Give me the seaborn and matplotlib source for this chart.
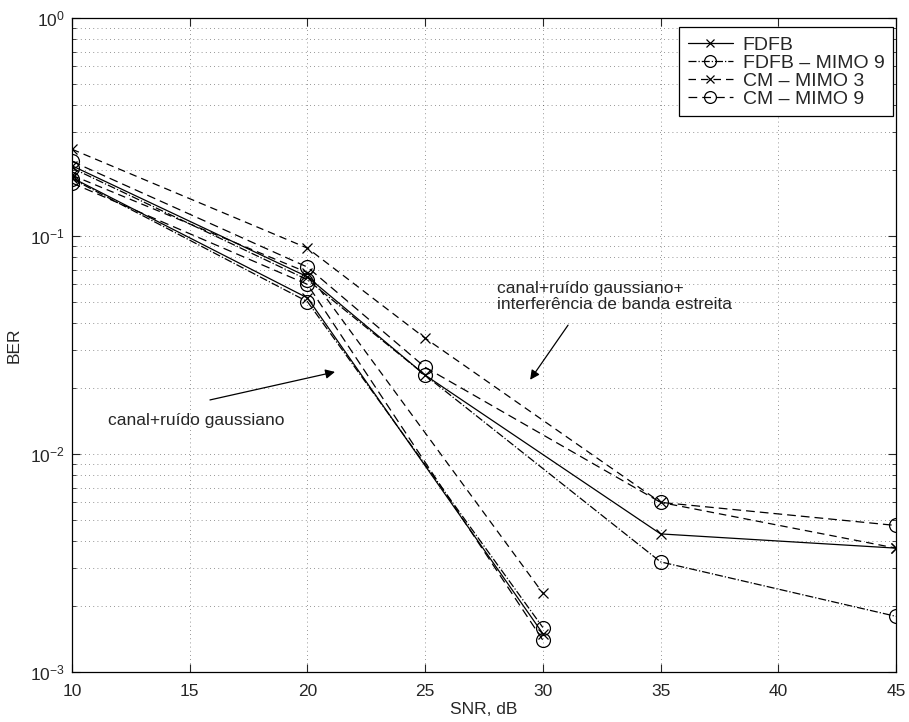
import numpy as np
import pandas as pd
import matplotlib
matplotlib.use("Agg")
import matplotlib.pyplot as plt
import seaborn as sns

# SNR points (dB)
snr_gauss = [10, 20, 30]
snr_interf = [10, 20, 25, 35, 45]

# BER, channel + Gaussian noise
fdfb_gauss = [0.185, 0.052, 0.0015]
fdfb9_gauss = [0.183, 0.050, 0.0016]
cm3_gauss = [0.19, 0.068, 0.0023]
cm9_gauss = [0.175, 0.060, 0.0014]

# BER, channel + Gaussian noise + narrowband interference
fdfb_interf = [0.21, 0.065, 0.023, 0.0043, 0.0037]
fdfb9_interf = [0.205, 0.063, 0.023, 0.0032, 0.0018]
cm3_interf = [0.25, 0.088, 0.034, 0.0060, 0.0037]
cm9_interf = [0.22, 0.072, 0.025, 0.0060, 0.0047]

labels = ["FDFB", "FDFB \u2013 MIMO 9", "CM \u2013 MIMO 3", "CM \u2013 MIMO 9"]

sns.set_style("ticks")
plt.rcParams["font.family"] = ["Liberation Sans", "DejaVu Sans"]
plt.rcParams["mathtext.fontset"] = "custom"
plt.rcParams["mathtext.rm"] = "Liberation Sans"
plt.rcParams["mathtext.it"] = "Liberation Sans"

fig = plt.figure(figsize=(9.09, 7.22), dpi=100)
ax = fig.add_axes([72 / 909, 50 / 722, (896 - 72) / 909, (672 - 18) / 722])

styles = [
    dict(linestyle="-", marker="x", markersize=7),
    dict(linestyle="-.", marker="o", markersize=10),
    dict(linestyle=(0, (6, 4)), marker="x", markersize=7),
    dict(linestyle=(0, (7, 4)), marker="o", markersize=10),
]

gauss = [fdfb_gauss, fdfb9_gauss, cm3_gauss, cm9_gauss]
interf = [fdfb_interf, fdfb9_interf, cm3_interf, cm9_interf]

for lab, st, g, i in zip(labels, styles, gauss, interf):
    dfi = pd.DataFrame({"snr": snr_interf, "ber": i})
    dfg = pd.DataFrame({"snr": snr_gauss, "ber": g})
    sns.lineplot(data=dfi, x="snr", y="ber", ax=ax, color="black", lw=0.9,
                 mfc="none", mec="black", mew=0.9, label=lab, sort=False, **st)
    sns.lineplot(data=dfg, x="snr", y="ber", ax=ax, color="black", lw=0.9,
                 mfc="none", mec="black", mew=0.9, label="_nolegend_", sort=False, **st)

ax.set_yscale("log")
ax.set_xlim(10, 45)
ax.set_ylim(1e-3, 1)
ax.set_xticks([10, 15, 20, 25, 30, 35, 40, 45])
ax.set_xlabel("SNR, dB", fontsize=12.5, labelpad=2)
ax.set_ylabel("BER", fontsize=12.5, labelpad=6)

ax.grid(True, which="major", axis="both", color="black", linestyle=(0, (1, 4)), lw=0.6, alpha=0.55)
ax.grid(True, which="minor", axis="y", color="black", linestyle=(0, (1, 4)), lw=0.6, alpha=0.55)
ax.tick_params(which="both", direction="in", top=True, right=True, labelsize=12.5)
ax.tick_params(which="major", length=6, width=0.8, pad=5)
ax.tick_params(axis="x", which="major", pad=9)
ax.tick_params(which="minor", length=3, width=0.6)
for s in ax.spines.values():
    s.set_linewidth(0.9)
    s.set_color("black")

leg = ax.legend(loc="upper right", fontsize=14, frameon=True, fancybox=False,
                edgecolor="black", framealpha=1, handlelength=2.3, markerscale=0.85,
                borderpad=0.45, labelspacing=0.02, handletextpad=0.5,
                borderaxespad=0, bbox_to_anchor=(0.9964, 0.986))
leg.get_frame().set_linewidth(0.9)

arrow = dict(arrowstyle="-|>", color="black", lw=0.9, shrinkA=0, shrinkB=0,
             mutation_scale=14)
ax.text(11.55, 0.0142, "canal+ru\u00eddo gaussiano", fontsize=12.5, va="center", ha="left")
ax.annotate("", xy=(21.17, 0.0238), xytext=(15.86, 0.0177), arrowprops=arrow)
ax.text(28.05, 0.053, "canal+ru\u00eddo gaussiano+\ninterfer\u00eancia de banda estreita",
        fontsize=12.5, va="center", ha="left", linespacing=1.1)
ax.annotate("", xy=(29.46, 0.0219), xytext=(31.07, 0.039), arrowprops=arrow)

fig.savefig("out.png", dpi=100)
